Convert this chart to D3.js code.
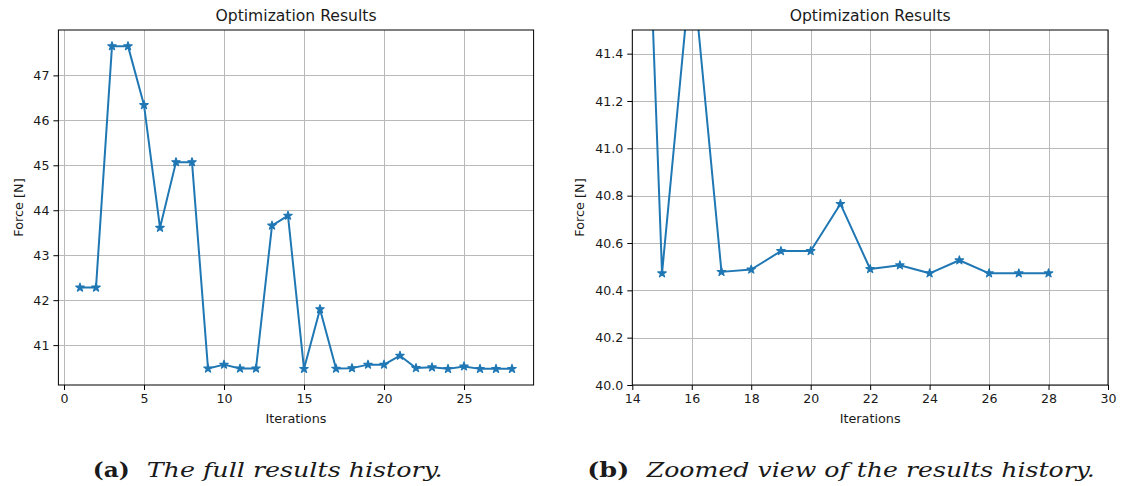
<!DOCTYPE html>
<html>
<head>
<meta charset="utf-8">
<script src="https://cdn.jsdelivr.net/npm/d3@7"></script>
<style>
  body { margin: 0; background: #fff; }
  svg text { fill: #1a1a1a; }
</style>
</head>
<body>
<svg id="fig" width="1122" height="486"></svg>
<script>
// optimisation history
const iterations = [1, 2, 3, 4, 5, 6, 7, 8, 9, 10, 11, 12, 13, 14,
                    15, 16, 17, 18, 19, 20, 21, 22, 23, 24, 25, 26, 27, 28];
const force = [42.28, 42.28, 47.65, 47.65, 46.34, 43.61, 45.07, 45.07, 40.48, 40.566,
               40.48, 40.48, 43.66, 43.88, 40.472, 41.80, 40.478, 40.488, 40.566, 40.566,
               40.765, 40.49, 40.506, 40.472, 40.527, 40.472, 40.472, 40.472];

// tick labels
const xTicksFull = [0, 5, 10, 15, 20, 25];
const yTicksFull = [41, 42, 43, 44, 45, 46, 47];
const xTicksZoom = [14, 16, 18, 20, 22, 24, 26, 28, 30];
const yTicksZoom = [40.0, 40.2, 40.4, 40.6, 40.8, 41.0, 41.2, 41.4];
const zoomXRange = [14, 30];
const zoomYRange = [40.0, 41.5];

const title = "Optimization Results";
const xLabel = "Iterations";
const yLabel = "Force [N]";
const captions = [
  {tag: "(a)", text: "The full results history."},
  {tag: "(b)", text: "Zoomed view of the results history."}
];

const blue = "#1f77b4";
const svg = d3.select("#fig");
const data = iterations.map((it, i) => ({x: it, y: force[i]}));

// matplotlib-like 5% margins for the full view
function padded(ext) {
  const m = (ext[1] - ext[0]) * 0.05;
  return [ext[0] - m, ext[1] + m];
}

function drawPanel(opt) {
  const {left, right, top, bottom} = opt.box;
  const x = d3.scaleLinear().domain(opt.xDomain).range([left, right]);
  const y = d3.scaleLinear().domain(opt.yDomain).range([bottom, top]);
  const g = svg.append("g");

  const clipId = "clip" + opt.id;
  g.append("clipPath").attr("id", clipId)
    .append("rect")
    .attr("x", left).attr("y", top)
    .attr("width", right - left).attr("height", bottom - top);

  // grid
  g.append("g").selectAll("line.vx").data(opt.xTicks).join("line")
    .attr("x1", d => Math.round(x(d)) + 0.5).attr("x2", d => Math.round(x(d)) + 0.5)
    .attr("y1", top).attr("y2", bottom)
    .attr("stroke", "#b9b9b9").attr("stroke-width", 1);
  g.append("g").selectAll("line.hy").data(opt.yTicks).join("line")
    .attr("y1", d => Math.round(y(d)) + 0.5).attr("y2", d => Math.round(y(d)) + 0.5)
    .attr("x1", left).attr("x2", right)
    .attr("stroke", "#b9b9b9").attr("stroke-width", 1);

  // line + star markers
  const plot = g.append("g").attr("clip-path", `url(#${clipId})`);
  plot.append("path").datum(data)
    .attr("fill", "none").attr("stroke", blue).attr("stroke-width", 2)
    .attr("stroke-linejoin", "round")
    .attr("d", d3.line().x(d => x(d.x)).y(d => y(d.y)));
  const star = d3.symbol().type(d3.symbolStar).size(22);
  plot.selectAll("path.mk").data(data).join("path")
    .attr("class", "mk")
    .attr("d", star)
    .attr("transform", d => `translate(${x(d.x)},${y(d.y)})`)
    .attr("fill", blue).attr("stroke", blue).attr("stroke-width", 1.2)
    .attr("stroke-linejoin", "round");

  // axes
  const xAxis = d3.axisBottom(x).tickValues(opt.xTicks).tickSize(5).tickPadding(4)
    .tickFormat(opt.xFmt);
  const yAxis = d3.axisLeft(y).tickValues(opt.yTicks).tickSize(5).tickPadding(4)
    .tickFormat(opt.yFmt);
  const gx = g.append("g").attr("transform", `translate(0,${bottom})`).call(xAxis);
  const gy = g.append("g").attr("transform", `translate(${left},0)`).call(yAxis);
  [gx, gy].forEach(a => {
    a.select(".domain").remove();
    a.selectAll(".tick line").attr("stroke", "#000").attr("stroke-width", 1);
    a.selectAll(".tick text")
      .attr("font-family", "DejaVu Sans").attr("font-size", 12.6)
      .attr("fill", "#1a1a1a");
  });

  // frame
  g.append("rect")
    .attr("x", left).attr("y", top)
    .attr("width", right - left).attr("height", bottom - top)
    .attr("fill", "none").attr("stroke", "#000").attr("stroke-width", 1);

  // labels
  g.append("text")
    .attr("x", (left + right) / 2).attr("y", 21)
    .attr("text-anchor", "middle")
    .attr("font-family", "DejaVu Sans").attr("font-size", 15.6)
    .text(title);
  g.append("text")
    .attr("x", (left + right) / 2).attr("y", 423)
    .attr("text-anchor", "middle")
    .attr("font-family", "DejaVu Sans").attr("font-size", 12.8)
    .text(xLabel);
  g.append("text")
    .attr("transform", `translate(${opt.yLabelX},${(top + bottom) / 2}) rotate(-90)`)
    .attr("text-anchor", "middle")
    .attr("font-family", "DejaVu Sans").attr("font-size", 12.8)
    .text(yLabel);

  // caption
  const cap = opt.caption;
  svg.append("text")
    .attr("x", opt.capX).attr("y", 476.5)
    .attr("font-family", "DejaVu Serif").attr("font-weight", "bold")
    .attr("font-size", 20.5)
    .attr("textLength", opt.capTagW).attr("lengthAdjust", "spacingAndGlyphs")
    .text(cap.tag);
  svg.append("text")
    .attr("x", opt.capTextX).attr("y", 476.5)
    .attr("font-family", "DejaVu Serif").attr("font-style", "italic")
    .attr("font-size", 20.5)
    .attr("textLength", opt.capTextW).attr("lengthAdjust", "spacingAndGlyphs")
    .text(cap.text);
}

drawPanel({
  id: "a",
  box: {left: 58.4, right: 533.6, top: 30, bottom: 385},
  xDomain: padded(d3.extent(iterations)),
  yDomain: padded(d3.extent(force)),
  xTicks: xTicksFull, yTicks: yTicksFull,
  xFmt: d3.format("d"), yFmt: d3.format("d"),
  yLabelX: 23,
  caption: captions[0],
  capX: 92.7, capTagW: 37, capTextX: 146.7, capTextW: 296
});

drawPanel({
  id: "b",
  box: {left: 632.3, right: 1108, top: 30, bottom: 385},
  xDomain: zoomXRange,
  yDomain: zoomYRange,
  xTicks: xTicksZoom, yTicks: yTicksZoom,
  xFmt: d3.format("d"), yFmt: d3.format(".1f"),
  yLabelX: 584,
  caption: captions[1],
  capX: 587.3, capTagW: 42, capTextX: 646.7, capTextW: 448
});
</script>
</body>
</html>
